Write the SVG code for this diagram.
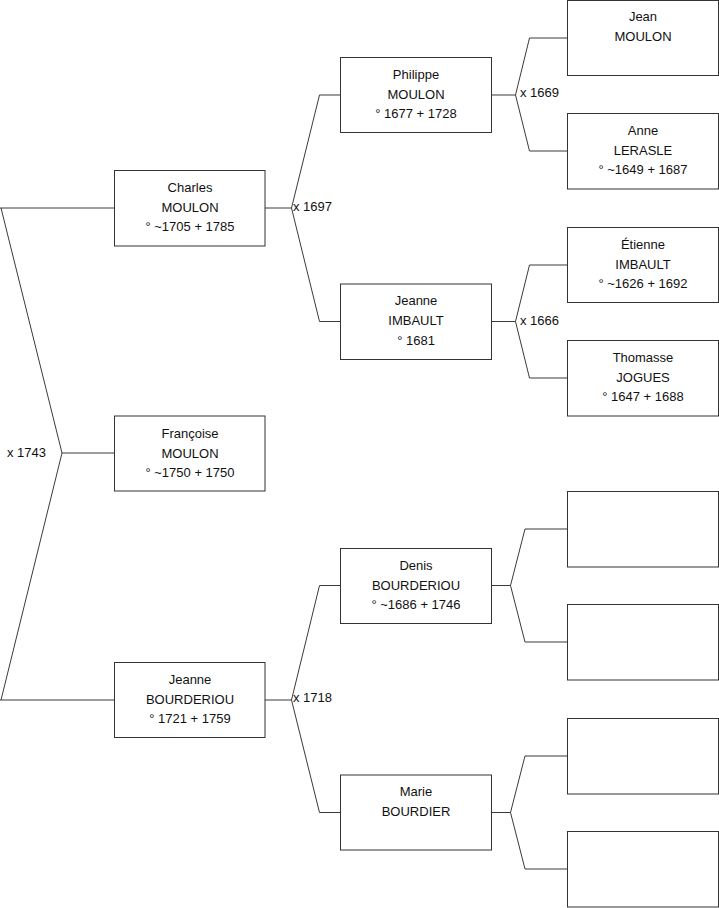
<svg xmlns="http://www.w3.org/2000/svg" width="719" height="908" viewBox="0 0 719 908">
<style>
  .box { fill: #ffffff; stroke: #333333; stroke-width: 1; }
  .con { fill: none; stroke: #3a3a3a; stroke-width: 1; }
  text { font-family: "Liberation Sans", Arial, sans-serif; font-size: 13px; fill: #111111; }
  .c { text-anchor: middle; }
</style>
<rect x="0" y="0" width="719" height="908" fill="#ffffff"/>
<g id="connectors">
  <path class="con" d="M0,208 H114 M1,208 L62,453 L1,700 M62,453 H114 M0,700 H114"/>
  <path class="con" d="M265,208 H291.5 M319.5,95 L291.5,208 L319.5,321.5 M319.5,95 H340.5 M319.5,321.5 H340.5"/>
  <path class="con" d="M265,700 H291.5 M319.5,585.5 L291.5,700 L319.5,812.5 M319.5,585.5 H340.5 M319.5,812.5 H340.5"/>
  <path class="con" d="M491.5,95 H515.5 M529.5,38 L515.5,95 L529.5,151 M529.5,38 H567.5 M529.5,151 H567.5"/>
  <path class="con" d="M491.5,321.5 H515.5 M529.5,265 L515.5,321.5 L529.5,378 M529.5,265 H567.5 M529.5,378 H567.5"/>
  <path class="con" d="M491.5,585.5 H510.5 M525,529 L510.5,585.5 L525,642 M525,529 H567.5 M525,642 H567.5"/>
  <path class="con" d="M491.5,812.5 H510.5 M525,756 L510.5,812.5 L525,869 M525,756 H567.5 M525,869 H567.5"/>
  <text x="7" y="457">x 1743</text>
  <text x="293" y="211">x 1697</text>
  <text x="293" y="701.5">x 1718</text>
  <text x="520" y="97">x 1669</text>
  <text x="520" y="325">x 1666</text>
</g>
<g id="charles">
  <rect class="box" x="114.5" y="170.5" width="150.5" height="75.5"/>
  <text class="c" x="190" y="191.5">Charles</text>
  <text class="c" x="190" y="211.5">MOULON</text>
  <text class="c" x="190" y="231">° ~1705 + 1785</text>
</g>
<g id="francoise">
  <rect class="box" x="114.5" y="416" width="150.5" height="75"/>
  <text class="c" x="190" y="437.5">Françoise</text>
  <text class="c" x="190" y="457.5">MOULON</text>
  <text class="c" x="190" y="477">° ~1750 + 1750</text>
</g>
<g id="jeanne-bourderiou">
  <rect class="box" x="114.5" y="662.5" width="150.5" height="75"/>
  <text class="c" x="190" y="683.5">Jeanne</text>
  <text class="c" x="190" y="703.5">BOURDERIOU</text>
  <text class="c" x="190" y="723">° 1721 + 1759</text>
</g>
<g id="philippe">
  <rect class="box" x="340.5" y="57.5" width="151" height="75"/>
  <text class="c" x="416" y="78.5">Philippe</text>
  <text class="c" x="416" y="98.5">MOULON</text>
  <text class="c" x="416" y="118">° 1677 + 1728</text>
</g>
<g id="jeanne-imbault">
  <rect class="box" x="340.5" y="284" width="151" height="75.5"/>
  <text class="c" x="416" y="305">Jeanne</text>
  <text class="c" x="416" y="325">IMBAULT</text>
  <text class="c" x="416" y="344.5">° 1681</text>
</g>
<g id="denis">
  <rect class="box" x="340.5" y="548.5" width="151" height="75"/>
  <text class="c" x="416" y="569.5">Denis</text>
  <text class="c" x="416" y="589.5">BOURDERIOU</text>
  <text class="c" x="416" y="609">° ~1686 + 1746</text>
</g>
<g id="marie">
  <rect class="box" x="340.5" y="775" width="151" height="75"/>
  <text class="c" x="416" y="796">Marie</text>
  <text class="c" x="416" y="816">BOURDIER</text>
</g>
<g id="jean">
  <rect class="box" x="567.5" y="0.5" width="151" height="75"/>
  <text class="c" x="643" y="21">Jean</text>
  <text class="c" x="643" y="41">MOULON</text>
</g>
<g id="anne">
  <rect class="box" x="567.5" y="113.5" width="151" height="75.5"/>
  <text class="c" x="643" y="134.5">Anne</text>
  <text class="c" x="643" y="154.5">LERASLE</text>
  <text class="c" x="643" y="174">° ~1649 + 1687</text>
</g>
<g id="etienne">
  <rect class="box" x="567.5" y="227.5" width="151" height="75"/>
  <text class="c" x="643" y="248.5">Étienne</text>
  <text class="c" x="643" y="268.5">IMBAULT</text>
  <text class="c" x="643" y="288">° ~1626 + 1692</text>
</g>
<g id="thomasse">
  <rect class="box" x="567.5" y="340.5" width="151" height="75.5"/>
  <text class="c" x="643" y="361.5">Thomasse</text>
  <text class="c" x="643" y="381.5">JOGUES</text>
  <text class="c" x="643" y="401">° 1647 + 1688</text>
</g>
<g id="empty-1"><rect class="box" x="567.5" y="491.5" width="151" height="75.5"/></g>
<g id="empty-2"><rect class="box" x="567.5" y="604.5" width="151" height="75.5"/></g>
<g id="empty-3"><rect class="box" x="567.5" y="718.5" width="151" height="75.5"/></g>
<g id="empty-4"><rect class="box" x="567.5" y="831.5" width="151" height="75.5"/></g>
</svg>
